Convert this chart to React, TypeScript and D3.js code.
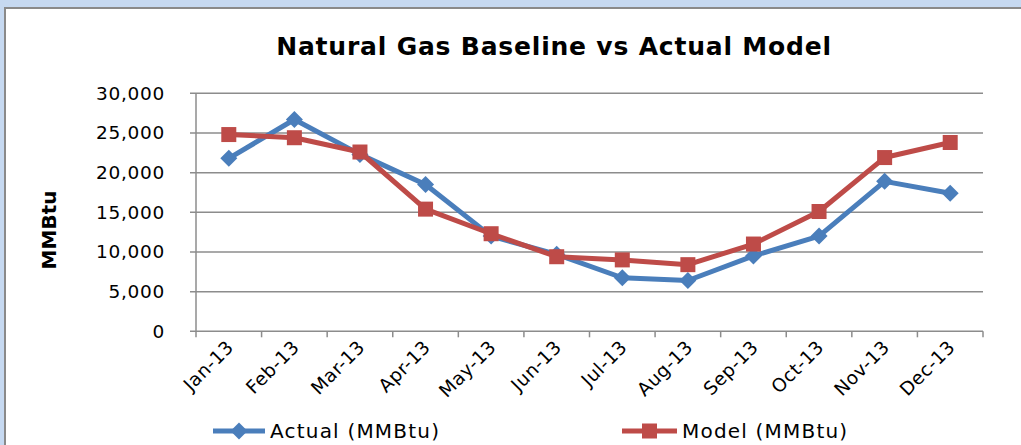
import * as d3 from "d3";

const months = ["Jan-13", "Feb-13", "Mar-13", "Apr-13", "May-13", "Jun-13", "Jul-13", "Aug-13", "Sep-13", "Oct-13", "Nov-13", "Dec-13"];
const actual = [21800, 26700, 22300, 18500, 12000, 9700, 6750, 6400, 9500, 12000, 18900, 17400];
const model = [24800, 24400, 22600, 15400, 12300, 9400, 9000, 8400, 11000, 15100, 21900, 23800];
const yTicks = [0, 5000, 10000, 15000, 20000, 25000, 30000];

const W = 1021;
const H = 445;
const BLUE = "#4a7ebb";
const RED = "#be4b48";
const GRID = "#8c8c8c";
const FONT = "'DejaVu Sans', sans-serif";

export default function App() {
  const x = d3.scaleBand<string>().domain(months).range([196, 983]);
  const y = d3.scaleLinear().domain([0, 30000]).range([331.3, 93.3]);
  const cx = (m: string) => (x(m) ?? 0) + x.bandwidth() / 2;

  const line = d3
    .line<number>()
    .x((_, i) => cx(months[i]))
    .y((d) => y(d));

  const fmt = d3.format(",");
  const diamond = (px: number, py: number, r = 8.5) =>
    `M${px},${py - r}L${px + r},${py}L${px},${py + r}L${px - r},${py}Z`;

  // category boundaries for x ticks
  const bounds = months.map((m) => x(m) ?? 0).concat([983]);

  return (
    <div>
      <style>{`body{margin:0}`}</style>
      <svg width={W} height={H} style={{ display: "block" }}>
        <rect x={0} y={0} width={W} height={H} fill="#c6d9f1" />
        <rect x={4} y={7} width={W - 4} height={H - 7} fill="#8a8a8a" />
        <rect x={6} y={9} width={W - 6} height={H - 9} fill="#ffffff" />

        <text
          x={554}
          y={55}
          textAnchor="middle"
          fontFamily={FONT}
          fontWeight="bold"
          fontSize={25}
          letterSpacing={0.8}
          fill="#000"
        >
          Natural Gas Baseline vs Actual Model
        </text>

        {/* gridlines */}
        {yTicks.map((t) => (
          <g key={t}>
            <line x1={190} x2={983} y1={y(t)} y2={y(t)} stroke={GRID} strokeWidth={1.5} />
            <text
              x={165}
              y={y(t)}
              dy="0.35em"
              textAnchor="end"
              fontFamily={FONT}
              fontSize={18.5}
              letterSpacing={0.7}
              fill="#000"
            >
              {fmt(t)}
            </text>
          </g>
        ))}

        {/* axes */}
        <line x1={196} x2={196} y1={y(30000)} y2={y(0)} stroke={GRID} strokeWidth={1.5} />
        {bounds.map((b, i) => (
          <line key={i} x1={b} x2={b} y1={y(0)} y2={y(0) + 6} stroke={GRID} strokeWidth={1.5} />
        ))}

        {months.map((m) => (
          <text
            key={m}
            transform={`translate(${cx(m) + 6},${y(0) + 17}) rotate(-45)`}
            textAnchor="end"
            fontFamily={FONT}
            fontSize={18.5}
            letterSpacing={0.5}
            fill="#000"
          >
            {m}
          </text>
        ))}

        <text
          transform={`translate(56,230) rotate(-90)`}
          textAnchor="middle"
          fontFamily={FONT}
          fontWeight="bold"
          fontSize={20}
          fill="#000"
        >
          MMBtu
        </text>

        {/* series */}
        <path d={line(actual) ?? ""} fill="none" stroke={BLUE} strokeWidth={5} strokeLinejoin="round" />
        {actual.map((v, i) => (
          <path key={i} d={diamond(cx(months[i]), y(v))} fill={BLUE} />
        ))}
        <path d={line(model) ?? ""} fill="none" stroke={RED} strokeWidth={5} strokeLinejoin="round" />
        {model.map((v, i) => (
          <rect key={i} x={cx(months[i]) - 7.5} y={y(v) - 7.5} width={15} height={15} fill={RED} />
        ))}

        {/* legend */}
        <line x1={213} x2={265} y1={431} y2={431} stroke={BLUE} strokeWidth={5} />
        <path d={diamond(239, 431)} fill={BLUE} />
        <text x={270} y={431} dy="0.35em" fontFamily={FONT} fontSize={20} letterSpacing={1.2} fill="#000">
          Actual (MMBtu)
        </text>
        <line x1={622} x2={677} y1={431} y2={431} stroke={RED} strokeWidth={5} />
        <rect x={642} y={423.5} width={15} height={15} fill={RED} />
        <text x={682} y={431} dy="0.35em" fontFamily={FONT} fontSize={20} letterSpacing={1.2} fill="#000">
          Model (MMBtu)
        </text>
      </svg>
    </div>
  );
}
